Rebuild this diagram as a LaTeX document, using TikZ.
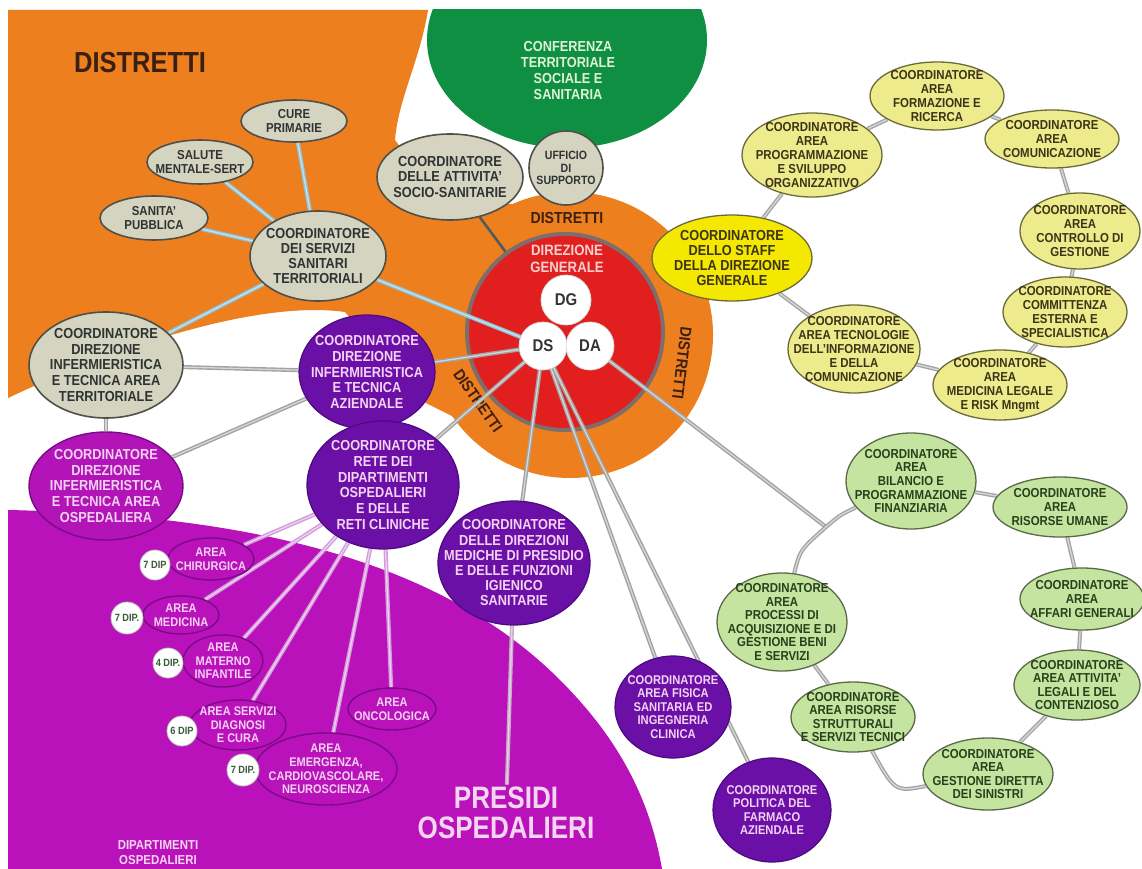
\documentclass[tikz,border=0pt]{standalone}
\usepackage{fontspec}
\setmainfont{Liberation Sans}[FakeStretch=0.88]
\newfontfamily\narrowfont{Liberation Sans}[FakeStretch=0.84]
\usetikzlibrary{shapes.geometric}
\pgfdeclarelayer{bg}
\pgfdeclarelayer{conn}
\pgfsetlayers{bg,conn,main}
\newcommand\FZ[2]{\fontsize{#1}{#2}\selectfont}
\definecolor{orangeA}{HTML}{EE7F1F}
\definecolor{greenC}{HTML}{0F8F42}
\definecolor{redC}{HTML}{E21F1F}
\definecolor{redB}{HTML}{7E6D6D}
\definecolor{magBG}{HTML}{BA12BA}
\definecolor{purN}{HTML}{6A10A6}
\definecolor{purL}{HTML}{4A0A80}
\definecolor{magN}{HTML}{B214B8}
\definecolor{magL}{HTML}{7A0A88}
\definecolor{greyF}{HTML}{D5D4C0}
\definecolor{greyL}{HTML}{505048}
\definecolor{yelF}{HTML}{EDEB8C}
\definecolor{yelL}{HTML}{6A6A3A}
\definecolor{yelS}{HTML}{F5E800}
\definecolor{grnF}{HTML}{C4E4A0}
\definecolor{grnL}{HTML}{5A6A48}
\definecolor{txtGrey}{HTML}{2E3434}
\definecolor{txtPur}{HTML}{F3D2F3}
\definecolor{txtYel}{HTML}{3C3418}
\definecolor{txtGrn}{HTML}{28401C}
\definecolor{txtDip}{HTML}{3A5A3A}
\definecolor{txtDist}{HTML}{3A2010}
\definecolor{lbD}{HTML}{8FC3D8}
\definecolor{lbL}{HTML}{C6E2EE}
\definecolor{grD}{HTML}{A2A2A2}
\definecolor{grL}{HTML}{D6D6D6}
\definecolor{liD}{HTML}{D49ADC}
\definecolor{liL}{HTML}{EED2F2}
\definecolor{piD}{HTML}{C7A9C9}
\definecolor{piL}{HTML}{E4D2E4}
\definecolor{darkL}{HTML}{4C5C5C}
\definecolor{confT}{HTML}{DFF2D8}
\definecolor{presT}{HTML}{F5D6F2}
\definecolor{dgT}{HTML}{F6D0D0}
\newcommand\EN[7][]{%
  \node[#2N, minimum width=#5pt, minimum height=#6pt] (#3) at (#4) {};
  \node[#2T, #1] (#3-t) at (#3) {#7};}
\tikzset{
  ell/.style={ellipse, inner sep=0pt},
  base/.style={align=center, inner sep=0pt, font=\bfseries\FZ{13}{14}},
  big/.style={font=\bfseries\FZ{14.5}{15.2}},
  bigs/.style={font=\bfseries\FZ{14.5}{15.8}},
  mid/.style={font=\bfseries\FZ{12.7}{13.6}},
  gN/.style={ell, fill=greyF, draw=greyL, line width=1.6pt},
  gT/.style={base, text=txtGrey},
  pN/.style={ell, fill=purN, draw=purL, line width=1.2pt},
  pT/.style={base, text=txtPur},
  mN/.style={ell, fill=magN, draw=magL, line width=1.4pt},
  mT/.style={base, text=txtPur},
  aN/.style={ell, fill=magBG, draw=magL, line width=1.4pt},
  aT/.style={base, text=txtPur, font=\bfseries\FZ{12.5}{13.6}},
  dN/.style={ell, fill=white, draw=black!25, line width=0.8pt},
  dT/.style={base, text=txtDip, font=\bfseries\FZ{10.5}{11}},
  yN/.style={ell, fill=yelF, draw=yelL, line width=1.3pt},
  yT/.style={base, text=txtYel},
  ysN/.style={ell, fill=yelS, draw=yelL, line width=1.3pt},
  ysT/.style={base, text=txtYel},
  rN/.style={ell, fill=grnF, draw=grnL, line width=1.3pt},
  rT/.style={base, text=txtGrn, font=\bfseries\FZ{13}{13.6}},
  wN/.style={ell, fill=white, draw=black!15, line width=0.8pt},
  wT/.style={base, text=black!80, font=\bfseries\FZ{17}{17}},
  lb/.style={draw=lbD, line width=1.4pt, double=lbL, double distance=1.3pt},
  gr/.style={draw=grD, line width=1.4pt, double=grL, double distance=1.3pt},
  li/.style={draw=liD, line width=1.4pt, double=liL, double distance=1.3pt},
  pi/.style={draw=piD, line width=1.4pt, double=piL, double distance=1.3pt},
  ring/.style={draw=grD, line width=1.3pt, double=grL, double distance=1.4pt},
  dk/.style={draw=darkL, line width=2.6pt},
  dlab/.style={inner sep=0pt, text=txtDist, font=\bfseries\FZ{16}{16}}
}
\begin{document}
\begin{tikzpicture}[x=1pt,y=-1pt]
\useasboundingbox (0,0) rectangle (1142,869);
\begin{pgfonlayer}{bg}
\fill[white] (0,0) rectangle (1142,869);
\begin{scope}
\clip (8,10) rectangle (1142,869);
\fill[orangeA] (8,10) -- (428,10) .. controls (420,60) and (398,100) .. (395,140)
  -- (440,200) -- (530,205) -- (570,335) -- (470,425) -- (420,400) -- (345,312)
  .. controls (260,300) and (120,345) .. (8,398) -- cycle;
\fill[orangeA] (570,335) circle [radius=143pt];
\fill[greenC] (567,40) ellipse [x radius=140pt, y radius=108pt];
\fill[magBG] (8,510) .. controls (250,515) and (440,560) .. (560,680)
  .. controls (620,740) and (650,800) .. (662,869) -- (8,869) -- cycle;
\end{scope}
\node[circle, fill=redC, draw=redB, line width=4pt, minimum size=196pt, inner sep=0pt] (dirgen) at (565,332) {};
\node[dlab] (dist1) at (567,218) {DISTRETTI};
\node[dlab, rotate=-97] (dist2) at (682,363) {DISTRETTI};
\node[dlab, rotate=-55] (dist3) at (478,401) {DISTRETTI};
\node[base, text=dgT, font=\bfseries\FZ{15}{16.5}] (dgtitle) at (567,259) {DIREZIONE\\GENERALE};
\end{pgfonlayer}

% titles
\node[inner sep=0pt, text=txtDist, font=\bfseries\FZ{29}{29}] (title) at (140,63) {DISTRETTI};
\node[base, text=confT, font=\bfseries\FZ{14.5}{16}] (conf) at (568,71) {CONFERENZA\\TERRITORIALE\\SOCIALE E\\SANITARIA};
\node[align=center, inner sep=2pt, text=presT, font=\narrowfont\bfseries\FZ{31}{30.5}] (presidi) at (506,813) {PRESIDI\\OSPEDALIERI};
\node[base, text=presT, font=\bfseries\FZ{13}{15}] (dipart) at (158,853) {DIPARTIMENTI\\OSPEDALIERI};

% grey nodes
\EN{g}{cure}{294,121}{106}{42}{CURE\\PRIMARIE}
\EN{g}{salute}{200,162}{106}{44}{SALUTE\\MENTALE-SERT}
\EN{g}{sanita}{154,218}{108}{44}{SANITA'\\PUBBLICA}
\EN[big]{g}{territ}{318,256}{136}{90}{COORDINATORE\\DEI SERVIZI\\SANITARI\\TERRITORIALI}
\EN[big]{g}{socio}{450,177}{146}{86}{COORDINATORE\\DELLE ATTIVITA'\\SOCIO-SANITARIE}
\EN[font=\bfseries\FZ{12}{12.5}]{g}{ufficio}{566,168}{74}{74}{UFFICIO\\DI\\SUPPORTO}
\EN[bigs]{g}{infterr}{106,365}{154}{106}{COORDINATORE\\DIREZIONE\\INFERMIERISTICA\\E TECNICA AREA\\TERRITORIALE}

% direction
\EN{w}{dg}{566,300}{50}{50}{DG}
\EN{w}{ds}{543,346}{48}{48}{DS}
\EN{w}{da}{590,346}{48}{48}{DA}

% purple nodes
\EN[bigs]{p}{infaz}{367,372}{136}{114}{COORDINATORE\\DIREZIONE\\INFERMIERISTICA\\E TECNICA\\AZIENDALE}
\EN[bigs]{p}{rete}{383,485}{152}{128}{COORDINATORE\\RETE DEI\\DIPARTIMENTI\\OSPEDALIERI\\E DELLE\\RETI CLINICHE}
\EN[big]{p}{dirmed}{514,563}{152}{124}{COORDINATORE\\DELLE DIREZIONI\\MEDICHE DI PRESIDIO\\E DELLE FUNZIONI\\IGIENICO\\SANITARIE}
\EN[mid]{p}{fisica}{673,707}{116}{102}{COORDINATORE\\AREA FISICA\\SANITARIA ED\\INGEGNERIA\\CLINICA}
\EN[mid]{p}{farmaco}{772,810}{118}{104}{COORDINATORE\\POLITICA DEL\\FARMACO\\AZIENDALE}
\EN[bigs]{m}{infosp}{106,486}{154}{108}{COORDINATORE\\DIREZIONE\\INFERMIERISTICA\\E TECNICA AREA\\OSPEDALIERA}

% areas
\EN{a}{chir}{211,559}{86}{42}{AREA\\CHIRURGICA}
\EN{a}{med}{181,615}{76}{38}{AREA\\MEDICINA}
\EN{a}{mat}{223,661}{80}{52}{AREA\\MATERNO\\INFANTILE}
\EN{a}{serv}{238,725}{96}{50}{AREA SERVIZI\\DIAGNOSI\\E CURA}
\EN{a}{onc}{392,709}{88}{42}{AREA\\ONCOLOGICA}
\EN{a}{emer}{326,769}{142}{72}{AREA\\EMERGENZA,\\CARDIOVASCOLARE,\\NEUROSCIENZA}
\EN{d}{dchir}{155,565}{30}{30}{7 DIP}
\EN{d}{dmed}{127,618}{32}{32}{7 DIP.}
\EN{d}{dmat}{168,663}{30}{30}{4 DIP.}
\EN{d}{dserv}{182,731}{30}{30}{6 DIP}
\EN{d}{demer}{243,770}{32}{32}{7 DIP.}

% yellow ring
\EN[big]{ys}{staff}{732,258}{160}{86}{COORDINATORE\\DELLO STAFF\\DELLA DIREZIONE\\GENERALE}
\EN{y}{prog}{812,155}{140}{84}{COORDINATORE\\AREA\\PROGRAMMAZIONE\\E SVILUPPO\\ORGANIZZATIVO}
\EN{y}{form}{937,96}{134}{68}{COORDINATORE\\AREA\\FORMAZIONE E\\RICERCA}
\EN{y}{comu}{1052,139}{134}{58}{COORDINATORE\\AREA\\COMUNICAZIONE}
\EN{y}{contr}{1080,231}{120}{76}{COORDINATORE\\AREA\\CONTROLLO DI\\GESTIONE}
\EN{y}{comm}{1065,312}{124}{70}{COORDINATORE\\COMMITTENZA\\ESTERNA E\\SPECIALISTICA}
\EN{y}{legale}{1000,385}{134}{70}{COORDINATORE\\AREA\\MEDICINA LEGALE\\E RISK Mngmt}
\EN{y}{tecn}{854,349}{132}{88}{COORDINATORE\\AREA TECNOLOGIE\\DELL'INFORMAZIONE\\E DELLA\\COMUNICAZIONE}

% green ring
\EN{r}{bil}{911,481}{130}{96}{COORDINATORE\\AREA\\BILANCIO E\\PROGRAMMAZIONE\\FINANZIARIA}
\EN{r}{umane}{1060,507}{134}{60}{COORDINATORE\\AREA\\RISORSE UMANE}
\EN{r}{affari}{1082,599}{124}{62}{COORDINATORE\\AREA\\AFFARI GENERALI}
\EN{r}{legali}{1077,685}{126}{70}{COORDINATORE\\AREA ATTIVITA'\\LEGALI E DEL\\CONTENZIOSO}
\EN{r}{sinistri}{988,774}{130}{72}{COORDINATORE\\AREA\\GESTIONE DIRETTA\\DEI SINISTRI}
\EN{r}{strutt}{853,717}{124}{70}{COORDINATORE\\AREA RISORSE\\STRUTTURALI\\E SERVIZI TECNICI}
\EN{r}{proc}{782,622}{130}{98}{COORDINATORE\\AREA\\PROCESSI DI\\ACQUISIZIONE E DI\\GESTIONE BENI\\E SERVIZI}
\coordinate (gj) at (826,527);

\begin{pgfonlayer}{conn}
\draw[lb] (cure) -- (territ);
\draw[lb] (salute) -- (territ);
\draw[lb] (sanita) -- (territ);
\draw[lb] (territ) -- (infterr);
\draw[lb] (territ) -- (ds);
\draw[dk] (socio) -- (dirgen);
\draw[gr] (infterr) -- (infaz);
\draw[gr] (infterr) -- (infosp);
\draw[gr] (infosp) -- (infaz);
\draw[gr] (infaz) -- (ds);
\draw[gr] (rete) -- (ds);
\draw[gr] (ds) -- (dirmed);
\draw[gr] (ds) -- (fisica);
\draw[gr] (ds) -- (farmaco);
\draw[gr] (da) -- (gj);
\draw[pi] (dirmed) -- (presidi);
\draw[li] (rete) -- (chir);
\draw[li] (rete) -- (med);
\draw[li] (rete) -- (mat);
\draw[li] (rete) -- (serv);
\draw[li] (rete) -- (emer);
\draw[li] (rete) -- (onc);
% yellow ring
\draw[ring] (staff) -- (prog);
\draw[ring] (prog) -- (form);
\draw[ring] (form) -- (comu);
\draw[ring] (comu) -- (contr);
\draw[ring] (contr) -- (comm);
\draw[ring] (comm) -- (legale);
\draw[ring] (legale) -- (tecn);
\draw[ring] (tecn) -- (staff);
% green ring
\draw[ring] (bil) -- (umane);
\draw[ring] (umane) -- (affari);
\draw[ring] (affari) -- (legali);
\draw[ring] (legali) -- (sinistri);
\draw[ring] (strutt) .. controls (895,792) .. (sinistri);
\draw[ring] (strutt) -- (proc);
\draw[ring] (proc) .. controls (800,550) .. (gj) .. controls (840,515) .. (bil);
\end{pgfonlayer}
\end{tikzpicture}
\end{document}
